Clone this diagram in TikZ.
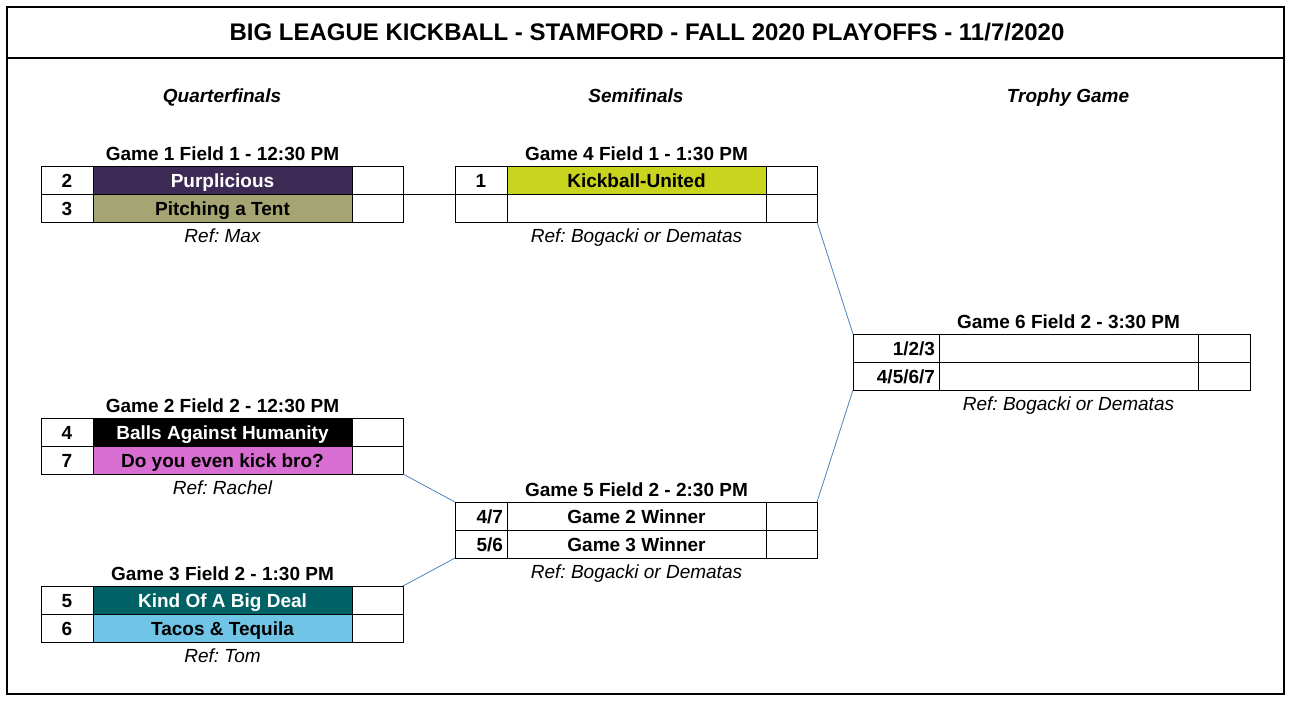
\documentclass[tikz,border=0pt]{standalone}
\usepackage{fontspec}
\setmainfont{Liberation Sans}
\frenchspacing
\definecolor{purp}{RGB}{62,43,85}
\definecolor{olive}{RGB}{165,165,115}
\definecolor{lime}{RGB}{200,212,30}
\definecolor{orchidc}{RGB}{216,110,210}
\definecolor{tealc}{RGB}{0,98,100}
\definecolor{skyc}{RGB}{112,196,230}
\definecolor{connc}{RGB}{79,129,189}
\tikzset{
  cell/.style={draw=black, line width=1pt, rectangle, anchor=north west, outer sep=0pt,
    minimum height=28pt, inner ysep=5pt, inner xsep=4pt, text height=16.5pt, text depth=1.5pt,
    font=\fontsize{19pt}{22pt}\selectfont\bfseries\frenchspacing},
  seedw/.style={minimum width=52pt},
  seedr/.style={minimum width=52pt, text width=44pt, align=right},
  seedwide/.style={minimum width=86pt, text width=78pt, align=right},
  namew/.style={minimum width=259pt},
  scorew/.style={minimum width=51pt},
  scorewide/.style={minimum width=52pt},
  gtitle/.style={anchor=base, inner sep=0pt, font=\fontsize{19pt}{22pt}\selectfont\bfseries},
  reftxt/.style={anchor=base, inner sep=0pt, font=\fontsize{19pt}{22pt}\selectfont\itshape\frenchspacing},
  hdr/.style={anchor=base, inner sep=0pt, font=\fontsize{19pt}{22pt}\selectfont\bfseries\itshape},
  conn/.style={draw=connc, line width=0.8pt},
  frame/.style={draw=black, line width=2pt}
}
\begin{document}
\begin{tikzpicture}[x=1pt,y=-1pt]
\useasboundingbox (0,0) rectangle (1292,704);
% frame
\draw[frame] (7,7) rectangle (1284,694);
\draw[frame] (7,58) -- (1284,58);
\node[anchor=base, inner sep=0pt, font=\fontsize{24pt}{28pt}\selectfont\bfseries] (title) at (647,40)
  {BIG LEAGUE KICKBALL - STAMFORD - FALL 2020 PLAYOFFS - 11/7/2020};
% round headers
\node[hdr] (hq) at (222,102) {Quarterfinals};
\node[hdr] (hs) at (636,102) {Semifinals};
\node[hdr] (ht) at (1068,102) {Trophy Game};

% Game 1
\node[cell,seedw] (g1a1) at (41,166) {2};
\node[cell,namew,fill=purp,text=white] (g1b1) at (g1a1.north east) {Purplicious};
\node[cell,scorew] (g1c1) at (g1b1.north east) {};
\node[cell,seedw] (g1a2) at (g1a1.south west) {3};
\node[cell,namew,fill=olive] (g1b2) at (g1a2.north east) {Pitching a Tent};
\node[cell,scorew] (g1c2) at (g1b2.north east) {};
\node[gtitle] (g1t) at ([yshift=6pt]g1b1.north) {Game 1 Field 1 - 12:30 PM};
\node[reftxt] (g1r) at ([yshift=-20pt]g1b2.south) {Ref: Max};

% Game 2
\node[cell,seedw] (g2a1) at (41,418) {4};
\node[cell,namew,fill=black,text=white] (g2b1) at (g2a1.north east) {Balls Against Humanity};
\node[cell,scorew] (g2c1) at (g2b1.north east) {};
\node[cell,seedw] (g2a2) at (g2a1.south west) {7};
\node[cell,namew,fill=orchidc] (g2b2) at (g2a2.north east) {Do you even kick bro?};
\node[cell,scorew] (g2c2) at (g2b2.north east) {};
\node[gtitle] (g2t) at ([yshift=6pt]g2b1.north) {Game 2 Field 2 - 12:30 PM};
\node[reftxt] (g2r) at ([yshift=-20pt]g2b2.south) {Ref: Rachel};

% Game 3
\node[cell,seedw] (g3a1) at (41,586) {5};
\node[cell,namew,fill=tealc,text=white] (g3b1) at (g3a1.north east) {Kind Of A Big Deal};
\node[cell,scorew] (g3c1) at (g3b1.north east) {};
\node[cell,seedw] (g3a2) at (g3a1.south west) {6};
\node[cell,namew,fill=skyc] (g3b2) at (g3a2.north east) {Tacos \& Tequila};
\node[cell,scorew] (g3c2) at (g3b2.north east) {};
\node[gtitle] (g3t) at ([yshift=6pt]g3b1.north) {Game 3 Field 2 - 1:30 PM};
\node[reftxt] (g3r) at ([yshift=-20pt]g3b2.south) {Ref: Tom};

% Game 4
\node[cell,seedw] (g4a1) at (455,166) {1};
\node[cell,namew,fill=lime] (g4b1) at (g4a1.north east) {Kickball-United};
\node[cell,scorew] (g4c1) at (g4b1.north east) {};
\node[cell,seedw] (g4a2) at (g4a1.south west) {};
\node[cell,namew] (g4b2) at (g4a2.north east) {};
\node[cell,scorew] (g4c2) at (g4b2.north east) {};
\node[gtitle] (g4t) at ([yshift=6pt]g4b1.north) {Game 4 Field 1 - 1:30 PM};
\node[reftxt] (g4r) at ([yshift=-20pt]g4b2.south) {Ref: Bogacki or Dematas};

% Game 5
\node[cell,seedr] (g5a1) at (455,502) {4/7};
\node[cell,namew] (g5b1) at (g5a1.north east) {Game 2 Winner};
\node[cell,scorew] (g5c1) at (g5b1.north east) {};
\node[cell,seedr] (g5a2) at (g5a1.south west) {5/6};
\node[cell,namew] (g5b2) at (g5a2.north east) {Game 3 Winner};
\node[cell,scorew] (g5c2) at (g5b2.north east) {};
\node[gtitle] (g5t) at ([yshift=6pt]g5b1.north) {Game 5 Field 2 - 2:30 PM};
\node[reftxt] (g5r) at ([yshift=-20pt]g5b2.south) {Ref: Bogacki or Dematas};

% Game 6
\node[cell,seedwide] (g6a1) at (853,334) {1/2/3};
\node[cell,namew] (g6b1) at (g6a1.north east) {};
\node[cell,scorewide] (g6c1) at (g6b1.north east) {};
\node[cell,seedwide] (g6a2) at (g6a1.south west) {4/5/6/7};
\node[cell,namew] (g6b2) at (g6a2.north east) {};
\node[cell,scorewide] (g6c2) at (g6b2.north east) {};
\node[gtitle] (g6t) at ([yshift=6pt]g6b1.north) {Game 6 Field 2 - 3:30 PM};
\node[reftxt] (g6r) at ([yshift=-20pt]g6b2.south) {Ref: Bogacki or Dematas};

% connectors
\draw[line width=1pt] (g1c1.south east) -- (g4a1.south west);
\draw[conn] (g2c2.south east) -- (g5a1.north west);
\draw[conn] (g3c1.north east) -- (g5a2.south west);
\draw[conn] (g4c2.south east) -- (g6a1.north west);
\draw[conn] (g5c1.north east) -- (g6a2.south west);
\end{tikzpicture}
\end{document}
